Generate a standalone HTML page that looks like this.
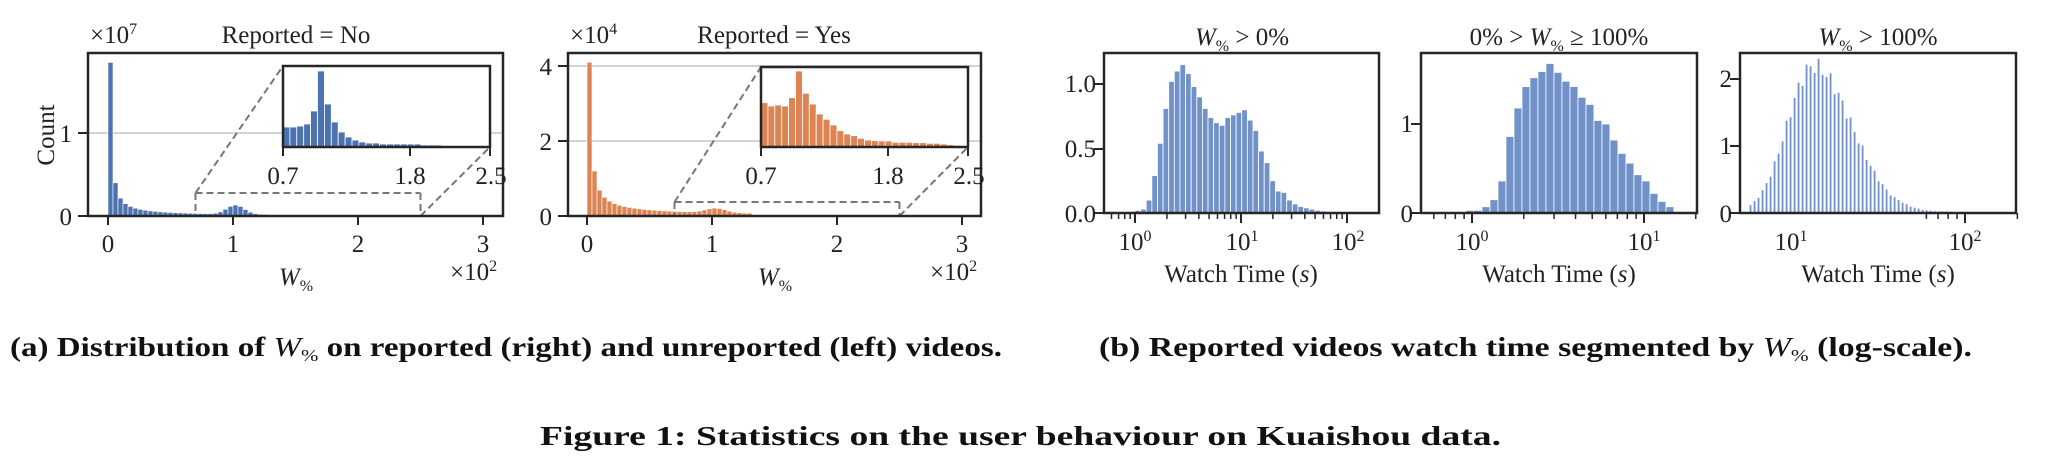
<!DOCTYPE html>
<html><head><meta charset="utf-8"><style>
html,body{margin:0;padding:0;background:#fff;}
svg{display:block;}
text{font-family:"Liberation Serif",serif;fill:#222;}
.t{font-size:25px;}
.cap{font-weight:bold;font-size:27px;fill:#111;}
</style></head><body>
<svg id="s" width="2046" height="464" viewBox="0 0 2046 464" xmlns="http://www.w3.org/2000/svg">
<g id="g"></g>
<!-- Panel 1 texts -->
<text class="t" x="90" y="43">×10<tspan font-size="16" dy="-9">7</tspan></text>
<text class="t" x="296" y="43" text-anchor="middle">Reported = No</text>
<text class="t" x="72" y="142" text-anchor="end">1</text>
<text class="t" x="72" y="225" text-anchor="end">0</text>
<text class="t" transform="translate(54,135) rotate(-90)" text-anchor="middle">Count</text>
<text class="t" x="108" y="252" text-anchor="middle">0</text>
<text class="t" x="233" y="252" text-anchor="middle">1</text>
<text class="t" x="358" y="252" text-anchor="middle">2</text>
<text class="t" x="483" y="252" text-anchor="middle">3</text>
<text class="t" x="296" y="285" text-anchor="middle" font-style="italic">W<tspan font-size="16" font-style="normal" dy="6">%</tspan></text>
<text class="t" x="450" y="280">×10<tspan font-size="16" dy="-9">2</tspan></text>
<text class="t" x="283" y="184" text-anchor="middle">0.7</text>
<text class="t" x="410" y="184" text-anchor="middle">1.8</text>
<text class="t" x="491" y="184" text-anchor="middle">2.5</text>
<!-- Panel 2 texts -->
<text class="t" x="570" y="43">×10<tspan font-size="16" dy="-9">4</tspan></text>
<text class="t" x="774" y="43" text-anchor="middle">Reported = Yes</text>
<text class="t" x="552" y="75" text-anchor="end">4</text>
<text class="t" x="552" y="150" text-anchor="end">2</text>
<text class="t" x="552" y="225" text-anchor="end">0</text>
<text class="t" x="587" y="252" text-anchor="middle">0</text>
<text class="t" x="712" y="252" text-anchor="middle">1</text>
<text class="t" x="837" y="252" text-anchor="middle">2</text>
<text class="t" x="962" y="252" text-anchor="middle">3</text>
<text class="t" x="775" y="285" text-anchor="middle" font-style="italic">W<tspan font-size="16" font-style="normal" dy="6">%</tspan></text>
<text class="t" x="930" y="280">×10<tspan font-size="16" dy="-9">2</tspan></text>
<text class="t" x="761" y="184" text-anchor="middle">0.7</text>
<text class="t" x="888" y="184" text-anchor="middle">1.8</text>
<text class="t" x="969" y="184" text-anchor="middle">2.5</text>
<!-- Panel 3 -->
<text class="t" x="1242" y="45" text-anchor="middle"><tspan font-style="italic">W</tspan><tspan font-size="16" dy="6">%</tspan><tspan dy="-6"> &gt; 0%</tspan></text>
<text class="t" x="1096" y="92" text-anchor="end">1.0</text>
<text class="t" x="1096" y="157" text-anchor="end">0.5</text>
<text class="t" x="1096" y="222" text-anchor="end">0.0</text>
<text class="t" x="1135" y="250" text-anchor="middle">10<tspan font-size="16" dy="-9">0</tspan></text>
<text class="t" x="1242" y="250" text-anchor="middle">10<tspan font-size="16" dy="-9">1</tspan></text>
<text class="t" x="1348" y="250" text-anchor="middle">10<tspan font-size="16" dy="-9">2</tspan></text>
<text class="t" x="1241" y="282" text-anchor="middle">Watch Time (<tspan font-style="italic">s</tspan>)</text>
<!-- Panel 4 -->
<text class="t" x="1559" y="45" text-anchor="middle"><tspan>0% &gt; </tspan><tspan font-style="italic">W</tspan><tspan font-size="16" dy="6">%</tspan><tspan dy="-6"> ≥ 100%</tspan></text>
<text class="t" x="1413" y="132" text-anchor="end">1</text>
<text class="t" x="1413" y="222" text-anchor="end">0</text>
<text class="t" x="1472" y="250" text-anchor="middle">10<tspan font-size="16" dy="-9">0</tspan></text>
<text class="t" x="1644" y="250" text-anchor="middle">10<tspan font-size="16" dy="-9">1</tspan></text>
<text class="t" x="1559" y="282" text-anchor="middle">Watch Time (<tspan font-style="italic">s</tspan>)</text>
<!-- Panel 5 -->
<text class="t" x="1878" y="45" text-anchor="middle"><tspan font-style="italic">W</tspan><tspan font-size="16" dy="6">%</tspan><tspan dy="-6"> &gt; 100%</tspan></text>
<text class="t" x="1732" y="87" text-anchor="end">2</text>
<text class="t" x="1732" y="154" text-anchor="end">1</text>
<text class="t" x="1732" y="222" text-anchor="end">0</text>
<text class="t" x="1791" y="250" text-anchor="middle">10<tspan font-size="16" dy="-9">1</tspan></text>
<text class="t" x="1965" y="250" text-anchor="middle">10<tspan font-size="16" dy="-9">2</tspan></text>
<text class="t" x="1878" y="282" text-anchor="middle">Watch Time (<tspan font-style="italic">s</tspan>)</text>
<!-- captions -->
<text class="cap" x="10" y="356" textLength="992" lengthAdjust="spacingAndGlyphs">(a) Distribution of <tspan font-style="italic" font-weight="normal">W</tspan><tspan font-size="17" font-weight="normal" dy="5">%</tspan><tspan dy="-5"> on reported (right) and unreported (left) videos.</tspan></text>
<text class="cap" x="1099" y="356" textLength="873" lengthAdjust="spacingAndGlyphs">(b) Reported videos watch time segmented by <tspan font-style="italic" font-weight="normal">W</tspan><tspan font-size="17" font-weight="normal" dy="5">%</tspan><tspan dy="-5"> (log-scale).</tspan></text>
<text class="cap" x="540" y="445" font-size="29" textLength="961" lengthAdjust="spacingAndGlyphs">Figure 1: Statistics on the user behaviour on Kuaishou data.</text>
</svg>
<script>
var g=document.getElementById('g'),NS='http://www.w3.org/2000/svg';
function el(t,a){var e=document.createElementNS(NS,t);for(var k in a)e.setAttribute(k,a[k]);g.appendChild(e);return e;}
function ln(x1,y1,x2,y2,c,w,d){var a={x1:x1,y1:y1,x2:x2,y2:y2,stroke:c,'stroke-width':w};if(d)a['stroke-dasharray']=d;el('line',a);}
function bar(x,w,top,base,f,sw){if(base-top<0.3)return;el('rect',{x:x,y:top,width:w,height:base-top,fill:f,stroke:'#fff','stroke-width':sw||0.6});}
var K='#262626';
function frame(x0,y0,x1,y1){el('rect',{x:x0,y:y0,width:x1-x0,height:y1-y0,fill:'none',stroke:K,'stroke-width':2.5});}
ln(88,133,503,133,'#d4d4d4',2);ln(88,216,503,216,'#d4d4d4',2);
var bw=0.04;
for(var i=0;i<34;i++){var x=i*bw,v;
 if(i==0)v=1.85;else{v=0.4*Math.pow(1/i,0.9)+0.11*Math.exp(-Math.pow((x+0.02-1.02)/0.07,2)/2);}
 if(x>1.25)v*=0.15;
 bar(108+125*x,5,216-83*v,216,'#4c72b0',0.6);}
ln(568,66,981,66,'#d4d4d4',2);ln(568,141,981,141,'#d4d4d4',2);ln(568,216,981,216,'#d4d4d4',2);
for(var i=0;i<38;i++){var x=i*bw,v;
 if(i==0)v=4.1;else{v=1.2*Math.pow(1/i,0.8)+0.12*Math.exp(-Math.pow((x+0.02-1.03)/0.08,2)/2);}
 if(x>1.3)v*=0.2;
 bar(587+125*x,5,216-37.5*v,216,'#dd8452',0.6);}
ln(195.5,193,420.5,193,'#777',2,'7,4');ln(195.5,193,195.5,216,'#777',2,'7,4');ln(420.5,193,420.5,216,'#777',2,'7,4');
ln(195.5,193,283,66,'#777',2,'7,4');ln(420.5,216,490,147,'#777',2,'7,4');
ln(674.5,202,899.5,202,'#777',2,'7,4');ln(674.5,202,674.5,216,'#777',2,'7,4');ln(899.5,202,899.5,216,'#777',2,'7,4');
ln(674.5,202,761,67,'#777',2,'7,4');ln(899.5,216,968,147,'#777',2,'7,4');
el('rect',{x:283,y:66,width:207,height:81,fill:'#fff'});
var a1=[127,127,126,124,111,71,104,122,132,137,140,142,143,143,144,144,144,144,144,144,145,145,145,146,146,146,146,146.5,146.5,146.5];
for(var i=0;i<30;i++)bar(283+i*6.9,6.9,a1[i],147,'#4c72b0',0.8);
el('rect',{x:283,y:66,width:207,height:81,fill:'none',stroke:K,'stroke-width':2.5});
[283,410,490].forEach(function(x){ln(x,147,x,156,K,2);});
el('rect',{x:761,y:67,width:207,height:80,fill:'#fff'});
var a2=[102.7,106,105,106,97.7,71,93.3,104,114,119.3,125,130.7,134,135.7,138.3,140,140.7,141,141,142.3,142.3,142.3,142.7,142.7,143.3,143.3,144,144.7,145.3,146];
for(var i=0;i<30;i++)bar(761+i*6.9,6.9,a2[i],147,'#dd8452',0.8);
el('rect',{x:761,y:67,width:207,height:80,fill:'none',stroke:K,'stroke-width':2.5});
[761,888,968].forEach(function(x){ln(x,147,x,156,K,2);});
frame(88,53,503,216);frame(568,53,981,216);
[108,233,358,483].forEach(function(x){ln(x,216,x,225,K,2);});
[587,712,837,962].forEach(function(x){ln(x,216,x,225,K,2);});
ln(78,133,88,133,K,2);ln(78,216,88,216,K,2);
ln(558,66,568,66,K,2);ln(558,141,568,141,K,2);ln(558,216,568,216,K,2);
var C='#7192c8';
function logp(x0,x1,o,dec,lmin,lmax,yu,vals,l0,st,gap){
 var B=213;
 for(var i=0;i<vals.length;i++){var l=l0+i*st;var xa=o+dec*l,xb=o+dec*(l+st);
  bar(xa,xb-xa-(gap||0),B-yu*vals[i],B,C,0.8);}
 frame(x0,53,x1,B);
 for(var d=Math.floor(lmin);d<=Math.ceil(lmax);d++){for(var m=1;m<10;m++){var l=d+Math.log10(m);
  if(l<lmin-0.001||l>lmax+0.001)continue;var x=o+dec*l;ln(x,B,x,B+(m==1?10:6),K,m==1?2:1.5);}}
}
var v3=[0.02,0.03,0.1,0.29,0.54,0.81,1.02,1.1,1.15,1.08,0.98,0.9,0.81,0.74,0.70,0.68,0.74,0.76,0.78,0.80,0.72,0.64,0.48,0.39,0.25,0.17,0.16,0.10,0.07,0.05,0.04,0.03,0.02,0.015,0.01,0.005];
logp(1104,1379,1135,106,-0.29,2.3,129,v3,0,0.053);
ln(1094,84,1104,84,K,2);ln(1094,149,1104,149,K,2);ln(1094,213,1104,213,K,2);
var v4=[0.03,0.03,0.07,0.15,0.36,0.86,1.18,1.42,1.52,1.59,1.68,1.58,1.48,1.42,1.30,1.22,1.04,1.0,0.82,0.67,0.56,0.43,0.36,0.22,0.13,0.07];
logp(1421,1697,1472,172,-0.29,1.31,89,v4,-0.035,0.0465);
ln(1411,124,1421,124,K,2);ln(1411,213,1421,213,K,2);
var v5=[];for(var i=0;i<50;i++){var l=0.76+i*0.023;var s=l<1.12?0.15:0.22;var v=2.2*Math.exp(-Math.pow((l-1.12)/s,2)/2);
 v*=1+0.06*Math.sin(i*2.3);if(l>1.6)v+=0.02;if(l>1.9)v=0;v5.push(v);}
v5.push(0,0,0,0,0,0,0,0,0,0,0.01);
logp(1740,2016,1791,174,0.707,2.29,67,v5,-0.24,0.023,1.4);
ln(1730,79,1740,79,K,2);ln(1730,146,1740,146,K,2);ln(1730,213,1740,213,K,2);
</script>
</body></html>
